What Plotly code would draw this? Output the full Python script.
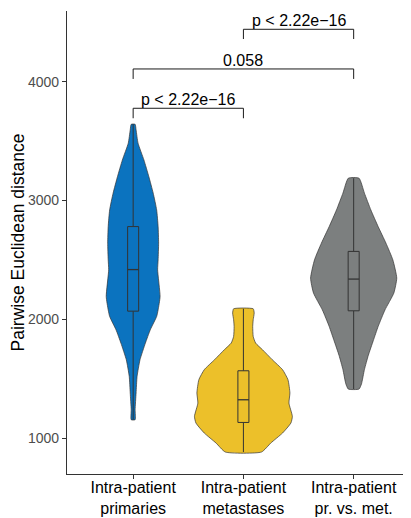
import plotly.graph_objects as go

# ---- data ----
categories = ["Intra-patient<br>primaries", "Intra-patient<br>metastases", "Intra-patient<br>pr. vs. met."]
colors = ["#0B73BF", "#ECC02A", "#7C7F7F"]

# violin density profiles (value levels, relative density)
prim_y = [3641, 3594, 3482, 3341, 3201, 3061, 2921, 2780, 2640, 2500, 2416, 2191, 2079, 2023, 1911, 1799, 1659, 1518, 1379, 1238, 1154]
prim_d = [0.04, 0.06, 0.10, 0.22, 0.32, 0.41, 0.48, 0.51, 0.52, 0.51, 0.50, 0.55, 0.51, 0.48, 0.35, 0.25, 0.14, 0.08, 0.06, 0.04, 0.04]
met_y = [2088, 2052, 1996, 1939, 1855, 1799, 1743, 1659, 1575, 1491, 1379, 1294, 1182, 1126, 1042, 958, 882]
met_d = [0.20, 0.22, 0.20, 0.19, 0.20, 0.25, 0.39, 0.59, 0.80, 0.91, 0.95, 0.93, 1.00, 0.97, 0.80, 0.56, 0.37]
pvm_y = [3187, 3061, 2921, 2780, 2640, 2500, 2346, 2220, 2079, 1939, 1819, 1697, 1577, 1456, 1412]
pvm_d = [0.11, 0.22, 0.35, 0.50, 0.66, 0.80, 0.88, 0.82, 0.64, 0.50, 0.40, 0.30, 0.22, 0.16, 0.11]

# box statistics
q1 = [2068, 1131, 2071]
median = [2418, 1322, 2338]
q3 = [2780, 1566, 2571]
lower = [1154, 882, 1412]
upper = [3641, 2088, 3187]

# comparisons (group index a, group index b, bracket level, tick bottom, label)
cmp_a = [1, 1, 2]
cmp_b = [2, 3, 3]
cmp_level = [3776, 4107, 4441]
cmp_tick = [3692, 4023, 4359]
cmp_label = ["p < 2.22e\u221216", "0.058", "p < 2.22e\u221216"]

y_ticks = [1000, 2000, 3000, 4000]

# ---- figure ----
fig = go.Figure()
SCALE = 0.444
BOX_HALF = 0.05
profiles = [(prim_y, prim_d), (met_y, met_d), (pvm_y, pvm_d)]
for i, (ys, ds) in enumerate(profiles):
    pos = i + 1
    xr = [pos + d * SCALE for d in ds]
    xl = [pos - d * SCALE for d in ds]
    xs = xr[::-1] + xl
    yy = ys[::-1] + ys
    xs.append(xs[0]); yy.append(yy[0])
    fig.add_trace(go.Scatter(x=xs, y=yy, mode="lines", fill="toself",
                             fillcolor=colors[i],
                             line=dict(color="#333333", width=0.7, shape="spline", smoothing=0.5),
                             hoverinfo="skip", showlegend=False))

for i in range(3):
    pos = i + 1
    # whiskers
    fig.add_trace(go.Scatter(x=[pos, pos, None, pos, pos], y=[upper[i], q3[i], None, q1[i], lower[i]],
                             mode="lines", line=dict(color="#333333", width=1),
                             hoverinfo="skip", showlegend=False))
    # box body
    fig.add_trace(go.Scatter(x=[pos - BOX_HALF, pos + BOX_HALF, pos + BOX_HALF, pos - BOX_HALF, pos - BOX_HALF],
                             y=[q1[i], q1[i], q3[i], q3[i], q1[i]],
                             mode="lines", fill="toself", fillcolor=colors[i],
                             line=dict(color="#333333", width=1),
                             hoverinfo="skip", showlegend=False))
    # median
    fig.add_trace(go.Scatter(x=[pos - BOX_HALF, pos + BOX_HALF], y=[median[i], median[i]],
                             mode="lines", line=dict(color="#333333", width=1.3),
                             hoverinfo="skip", showlegend=False))

for a, b, lv, tk, lab in zip(cmp_a, cmp_b, cmp_level, cmp_tick, cmp_label):
    fig.add_trace(go.Scatter(x=[a, a, b, b], y=[tk, lv, lv, tk], mode="lines",
                             line=dict(color="#1a1a1a", width=1),
                             hoverinfo="skip", showlegend=False))
    fig.add_annotation(x=(a + b) / 2, y=lv, text=lab, showarrow=False,
                       yanchor="bottom", yshift=-2,
                       font=dict(size=16, color="#000000", family="Liberation Sans, Arial, sans-serif"))

fig.update_layout(
    width=403, height=510,
    margin=dict(l=59, r=0, t=3, b=44, autoexpand=False),
    paper_bgcolor="white", plot_bgcolor="white",
    font=dict(family="Liberation Sans, Arial, sans-serif"),
    showlegend=False,
)
fig.update_xaxes(range=[0.4, 3.52], tickmode="array", tickvals=[1, 2, 3], ticktext=categories,
                 showgrid=False, zeroline=False, showline=True, linecolor="#333333", linewidth=1.3,
                 ticks="outside", ticklen=4, tickcolor="#333333", automargin=False,
                 ticklabelstandoff=-5,
                 tickfont=dict(size=16, color="#000000"))
fig.update_yaxes(range=[697, 4595], tickmode="array", tickvals=y_ticks,
                 showgrid=False, zeroline=False, showline=True, linecolor="#333333", linewidth=1.3,
                 ticks="outside", ticklen=4, tickcolor="#333333", automargin=False,
                 tickfont=dict(size=14, color="#4d4d4d"),
                 title=dict(text="Pairwise Euclidean distance", font=dict(size=17.5, color="#000000"), standoff=0))

fig.write_html("out.html", config={"displayModeBar": False})
